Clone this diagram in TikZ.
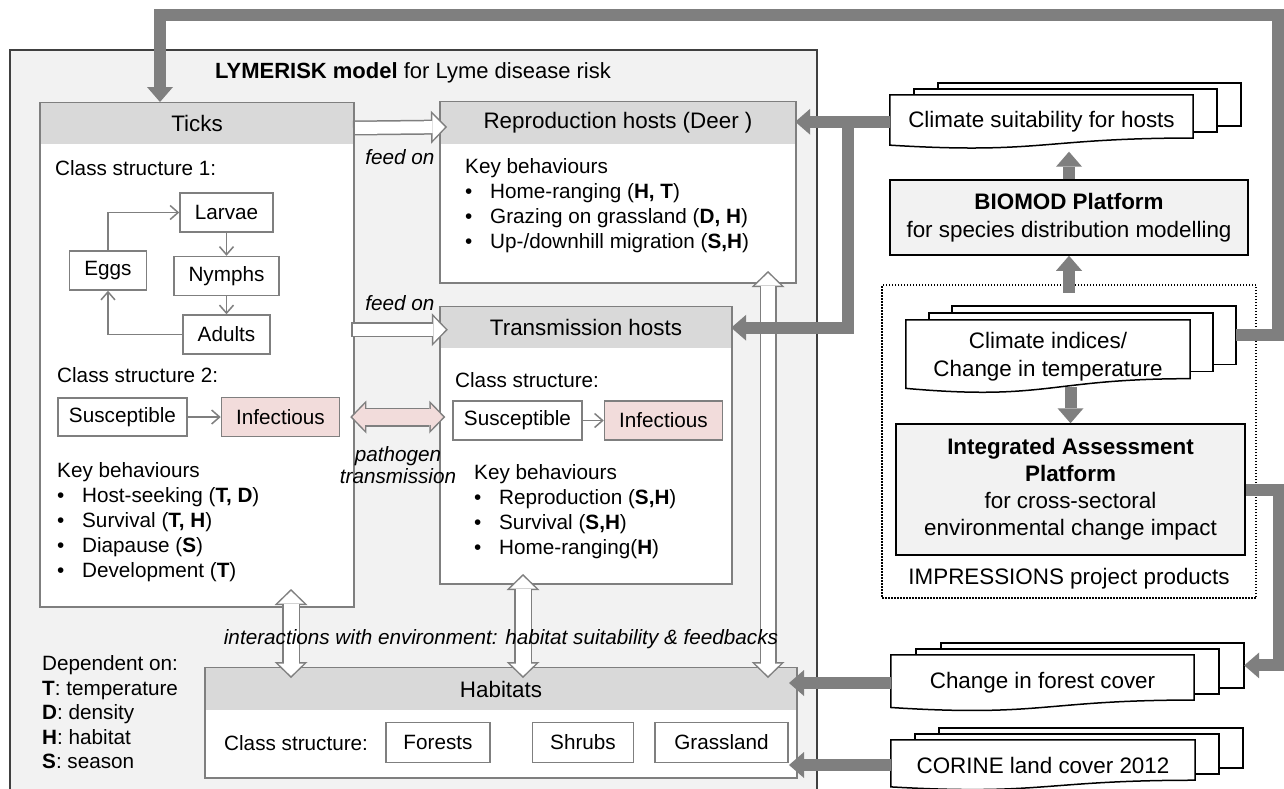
\documentclass[tikz,border=0pt]{standalone}
\usepackage{fontspec}
\setmainfont{Liberation Sans}
\usetikzlibrary{arrows.meta,calc,positioning}

\definecolor{midgray}{RGB}{127,127,127}
\definecolor{headgray}{RGB}{217,217,217}
\definecolor{panelgray}{RGB}{242,242,242}
\definecolor{darkline}{RGB}{64,64,64}
\definecolor{infpink}{RGB}{242,220,219}

\pgfdeclarelayer{background}
\pgfsetlayers{background,main}

\newcommand{\bodyfont}{\fontsize{20.7}{25}\selectfont}
\newcommand{\headfont}{\fontsize{22.4}{27.5}\selectfont}
\newcommand{\itm}{\makebox[25pt][l]{\textbullet}}

% stacked documents behind a front node with a wavy bottom
\newcommand{\docstack}[3]{%
  \coordinate (#1-re) at ($(#1.north east)!0.802!(#1.south east)$);
  \coordinate (#1-le) at ($(#1.north west)!0.934!(#1.south west)$);
  \coordinate (#1-b) at ($(#1.north east)!0.401!(#1.south east)+(2*#2,-2*#3)$);
  \begin{pgfonlayer}{background}
    \foreach \k in {2,1}
      \draw[stackline] ($(#1.north west)+(\k*#2,-\k*#3)$) rectangle ($(#1-re)+(\k*#2,-\k*#3)$);
    \draw[stackline] (#1.north west) -- (#1.north east) -- (#1-re)
      .. controls ($(#1.north)!0.802!(#1.south)$) and ($(#1.north)!1.107!(#1.south)$) .. (#1-le) -- cycle;
  \end{pgfonlayer}}

% white block arrow with a grey rim
\newcommand{\hollowarrow}[5]{%
  \draw[hollow=#3, #1] #4 -- #5;
  \draw[hollowfill={#2}{#3}, #1] #4 -- #5;}

\tikzset{
  panel/.style={draw=midgray, line width=2pt, fill=white, inner sep=0pt},
  headband/.style={fill=headgray, inner sep=0pt, font=\headfont, anchor=north},
  stage/.style={draw=midgray, line width=1.5pt, fill=white, inner sep=0pt, font=\bodyfont},
  txt/.style={font=\bodyfont, inner sep=0pt},
  keylist/.style={font=\bodyfont, inner sep=0pt, align=left, anchor=north west},
  lifearrow/.style={draw=midgray, line width=1.5pt, -{Straight Barb[length=8pt,width=14pt]}},
  bigarrow/.style={draw=midgray, line width=12pt, -{Triangle[length=15pt,width=26pt,line width=0pt]}},
  hollow/.style={draw=midgray, line width=#1pt, >={Triangle[length=16pt,width=33pt,line width=0pt]}},
  hollowfill/.style 2 args={draw=#1, line width=#2pt-3pt, >={Triangle[length=12.4pt,width=25.6pt,line width=0pt]},
    shorten >=2.1pt, shorten <=2.1pt},
  platform/.style={draw=black, line width=1.5pt, fill=panelgray, inner sep=0pt, font=\headfont, align=center},
  docfront/.style={inner sep=0pt, font=\headfont, align=center},
  stackline/.style={draw=black, line width=1.5pt, fill=white},
}

\begin{document}
\begin{tikzpicture}[x=1pt, y=-1pt]
  \useasboundingbox (0,0) rectangle (1284,788);
  \begin{pgfonlayer}{background}
    \fill[white] (0,0) rectangle (1284,788);
  \end{pgfonlayer}

  % LYMERISK model
  \node[draw=darkline, line width=1.5pt, fill=panelgray, inner sep=0pt,
        minimum width=807pt, minimum height=760pt] (lyme) at (413.5,430) {};
  \node[txt, font=\fontsize{22}{26}\selectfont] (lymetitle) at (413,73)
        {\textbf{LYMERISK model} for Lyme disease risk};

  \node[panel, minimum width=314pt, minimum height=504pt] (ticks) at (197,355) {};
  \node[headband, minimum width=312pt, minimum height=41pt] (tickshead) at ([yshift=-1pt]ticks.north) {Ticks};
  \node[panel, minimum width=356pt, minimum height=181pt] (repro) at (618,192.5) {};
  \node[headband, minimum width=354pt, minimum height=42pt] (reprohead) at ([yshift=-1pt]repro.north) {Reproduction hosts (Deer )};
  \node[panel, minimum width=292pt, minimum height=277pt] (trans) at (586,445.5) {};
  \node[headband, minimum width=290pt, minimum height=41pt] (transhead) at ([yshift=-1pt]trans.north) {Transmission hosts};
  \node[panel, minimum width=592pt, minimum height=110pt] (hab) at (501,723) {};
  \node[headband, minimum width=590pt, minimum height=42pt] (habhead) at ([yshift=-1pt]hab.north) {Habitats};

  % ticks
  \node[txt, anchor=west] (cs1) at (55,168) {Class structure 1:};
  \node[stage, minimum width=93pt, minimum height=39pt] (larvae) at (226.5,212.5) {Larvae};
  \node[stage, minimum width=105pt, minimum height=39pt, below=23pt of larvae] (nymphs) {Nymphs};
  \node[stage, minimum width=87pt, minimum height=39pt, below=18pt of nymphs] (adults) {Adults};
  \node[stage, minimum width=77pt, minimum height=39pt] (eggs) at (108,270.5) {Eggs};
  \draw[lifearrow] (eggs.north) |- (larvae.west);
  \draw[lifearrow] (larvae.south) -- (nymphs.north);
  \draw[lifearrow] (nymphs.south) -- (adults.north);
  \draw[lifearrow] (adults.west) -| (eggs.south);

  \node[txt, anchor=west] (cs2) at (57,375) {Class structure 2:};
  \node[stage, minimum width=129pt, minimum height=38pt] (tsus) at (122.5,417) {Susceptible};
  \node[stage, fill=infpink, minimum width=118pt, minimum height=39pt, right=33pt of tsus] (tinf) {Infectious};
  \draw[lifearrow] (tsus.east) -- (tsus.east -| tinf.west);

  \node[keylist] (tickskeys) at (57,462.4) {Key behaviours\\
    \itm Host-seeking (\textbf{T, D})\\
    \itm Survival (\textbf{T, H})\\
    \itm Diapause (\textbf{S})\\
    \itm Development (\textbf{T})};

  % hosts
  \node[keylist] (reprokeys) at (465,158) {Key behaviours\\
    \itm Home-ranging (\textbf{H, T})\\
    \itm Grazing on grassland (\textbf{D, H})\\
    \itm Up-/downhill migration (\textbf{S,H})};

  \node[txt, anchor=west] (cs3) at (455,380) {Class structure:};
  \node[stage, minimum width=129pt, minimum height=39pt] (hsus) at (517.5,420.5) {Susceptible};
  \node[stage, fill=infpink, minimum width=118pt, minimum height=39pt, right=21pt of hsus] (hinf) {Infectious};
  \draw[lifearrow] (hsus.east) -- (hinf.west);

  \node[keylist] (transkeys) at (474,464) {Key behaviours\\
    \itm Reproduction (\textbf{S,H})\\
    \itm Survival (\textbf{S,H})\\
    \itm Home-ranging(\textbf{H})};

  % habitats
  \node[txt, anchor=west] (cs4) at (224,743) {Class structure:};
  \node[stage, minimum width=104pt, minimum height=40pt] (forests) at (438,742.5) {Forests};
  \node[stage, minimum width=101pt, minimum height=40pt, right=41pt of forests] (shrubs) {Shrubs};
  \node[stage, minimum width=133pt, minimum height=40pt, right=20pt of shrubs] (grass) {Grassland};

  \node[keylist, font=\fontsize{20.7}{24.5}\selectfont] (depend) at (42,655.4) {Dependent on:\\
    \textbf{T}: temperature\\
    \textbf{D}: density\\
    \textbf{H}: habitat\\
    \textbf{S}: season};

  % block arrows inside the model
  \hollowarrow{->}{white}{15}{($(ticks.north east)+(-2,26)$)}{($(repro.north west)+(8,26)$)}
  \hollowarrow{->}{white}{15}{($(ticks.east |- transhead.west)+(-4,2)$)}{($(transhead.west)+(7,2)$)}
  \hollowarrow{<->}{infpink}{19}{($(tinf.east)+(10,0)$)}{($(tinf.east -| hsus.west)+(-7,0)$)}
  \hollowarrow{<->}{white}{18}{($(ticks.south east)+(-64,-19)$)}{($(ticks.south east |- hab.north)+(-64,11)$)}
  \hollowarrow{<->}{white}{18}{($(trans.south west)+(84,-11)$)}{($(trans.south west |- hab.north)+(84,11)$)}
  \hollowarrow{<->}{white}{17}{($(repro.south east)+(-29,-13)$)}{($(repro.south east |- hab.north)+(-29,11)$)}

  \node[txt, font=\bodyfont\itshape] (feed1) at (400,157) {feed on};
  \node[txt, font=\bodyfont\itshape] (feed2) at (400,303) {feed on};
  \node[txt, font=\fontsize{20.7}{22.5}\selectfont\itshape, align=center] (patho) at (398,465) {pathogen\\transmission};
  \node[txt, font=\bodyfont\itshape] (interact) at (501,639) {interactions with environment: habitat suitability \& feedbacks};

  % IMPRESSIONS products
  \node[draw=black, dash pattern=on 1.5pt off 1.5pt, line width=1.2pt, inner sep=0pt,
        minimum width=374pt, minimum height=313pt] (impress) at (1069,441.5) {};
  \node[txt, font=\headfont] (implabel) at (1069,579) {IMPRESSIONS project products};

  \node[docfront, minimum width=303pt, minimum height=53.5pt] (suit) at (1041.5,121.75) {Climate suitability for hosts};
  \node[platform, minimum width=358pt, minimum height=75pt] (biomod) at (1069,217.5)
        {\textbf{BIOMOD Platform}\\for species distribution modelling};
  \node[docfront, font=\fontsize{22.4}{28}\selectfont, minimum width=284pt, minimum height=73pt] (climind) at (1048,356.5)
        {Climate indices/\\Change in temperature};
  \node[platform, font=\fontsize{22.4}{27}\selectfont, minimum width=349pt, minimum height=131pt] (integ) at (1070.5,489.5)
        {\textbf{Integrated Assessment}\\\textbf{Platform}\\for cross-sectoral\\environmental change impact};
  \node[docfront, minimum width=303pt, minimum height=56pt] (forest) at (1042.5,683) {Change in forest cover};
  \node[docfront, minimum width=304pt, minimum height=50pt] (corine) at (1043,765) {CORINE land cover 2012};

  \docstack{suit}{24}{6}
  \docstack{climind}{23}{7}
  \docstack{forest}{25}{6}
  \docstack{corine}{24}{6}

  % data flows
  \coordinate (split) at ($(suit.west)+(-42,0)$);
  \coordinate (tickin) at ($(ticks.north)+(-37,0)$);
  \draw[bigarrow] (suit.west) -- (suit.west -| reprohead.east);
  \draw[bigarrow] (split) |- (transhead.east);
  \draw[bigarrow, shorten >=3pt] (biomod.north) -- (suit.south -| biomod.north);
  \draw[bigarrow] ($(climind.north -| biomod.south)+(0,-27)$) -- (biomod.south);
  \draw[bigarrow] ($(climind.south -| integ.north)+(0,-6)$) -- (integ.north);
  \draw[bigarrow] (climind-b) -- ++(42,0) |- ($(tickin)+(0,-87)$) -- (tickin);
  \draw[bigarrow] (integ.east) -- ++(33,0) |- (forest-b);
  \draw[bigarrow] (forest.west) -- ($(forest.west -| hab.east)+(-9,0)$);
  \draw[bigarrow] (corine.west) -- ($(corine.west -| hab.east)+(-9,0)$);
\end{tikzpicture}
\end{document}
